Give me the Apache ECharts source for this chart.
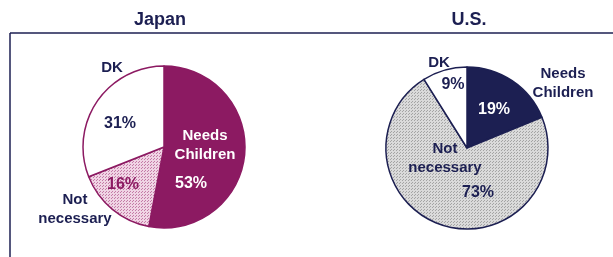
<!DOCTYPE html>
<html>
<head>
<meta charset="utf-8">
<script src="https://cdn.jsdelivr.net/npm/echarts@6/dist/echarts.min.js"></script>
<style>
  html, body { margin: 0; padding: 0; background: #fff; }
  #chart { width: 613px; height: 257px; }
</style>
</head>
<body>
<div id="chart"></div>
<script>
// data
var categories = ['Needs Children', 'Not necessary', 'DK'];
var japanValues = [53, 16, 31];
var usValues = [19, 73, 9];
var titles = ['Japan', 'U.S.'];

var navy = '#1c1f52';
var magenta = '#8c1a62';

// dotted fill, like the screen print in the original
function dotPattern(base, dot) {
  var c = document.createElement('canvas');
  c.width = 3; c.height = 3;
  var ctx = c.getContext('2d');
  ctx.fillStyle = base;
  ctx.fillRect(0, 0, 3, 3);
  ctx.fillStyle = dot;
  ctx.fillRect(0, 0, 1, 1);
  ctx.fillRect(1, 2, 1, 1);
  return { image: c, repeat: 'repeat' };
}

var japanColors = [magenta, dotPattern('#f0d4e4', '#c47aa6'), '#ffffff'];
var usColors = [navy, dotPattern('#dadada', '#a4a4a4'), '#ffffff'];

function pieData(values, colors) {
  return values.map(function (v, i) {
    return { name: categories[i], value: v, itemStyle: { color: colors[i] } };
  });
}

function txt(x, y, s, size, color) {
  return {
    type: 'text', x: x, y: y, z: 100,
    style: {
      text: s, fill: color || navy, font: 'bold ' + (size || 15) + 'px "Liberation Sans", Arial, sans-serif',
      textAlign: 'center', textVerticalAlign: 'middle', lineHeight: 19
    }
  };
}

var chart = echarts.init(document.getElementById('chart'));
chart.setOption({
  animation: false,
  series: [{
    type: 'pie',
    center: [164, 147],
    radius: 81,
    startAngle: 90,
    label: { show: false },
    labelLine: { show: false },
    emphasis: { disabled: true },
    itemStyle: { borderColor: magenta, borderWidth: 1.5 },
    data: pieData(japanValues, japanColors)
  }, {
    type: 'pie',
    center: [467, 148],
    radius: 81,
    startAngle: 90,
    label: { show: false },
    labelLine: { show: false },
    emphasis: { disabled: true },
    itemStyle: { borderColor: navy, borderWidth: 1.5 },
    data: pieData(usValues, usColors)
  }],
  graphic: [
    { type: 'line', shape: { x1: 10, y1: 33, x2: 613, y2: 33 }, style: { stroke: navy, lineWidth: 1.5 } },
    { type: 'line', shape: { x1: 10, y1: 33, x2: 10, y2: 257 }, style: { stroke: navy, lineWidth: 1.5 } },
    txt(160, 20, titles[0], 18),
    txt(469, 20, titles[1], 18),
    // Japan
    txt(112, 68, 'DK'),
    txt(120, 124, japanValues[2] + '%', 16),
    txt(205, 145, 'Needs\nChildren', 15, '#ffffff'),
    txt(191, 184, japanValues[0] + '%', 16, '#ffffff'),
    txt(123, 185, japanValues[1] + '%', 16, magenta),
    txt(75, 209, 'Not\nnecessary'),
    // U.S.
    txt(439, 63, 'DK'),
    txt(453, 85, usValues[2] + '%', 16),
    txt(563, 83, 'Needs\nChildren'),
    txt(494, 110, usValues[0] + '%', 16, '#ffffff'),
    txt(445, 158, 'Not\nnecessary'),
    txt(478, 193, usValues[1] + '%', 16)
  ]
});
</script>
</body>
</html>
